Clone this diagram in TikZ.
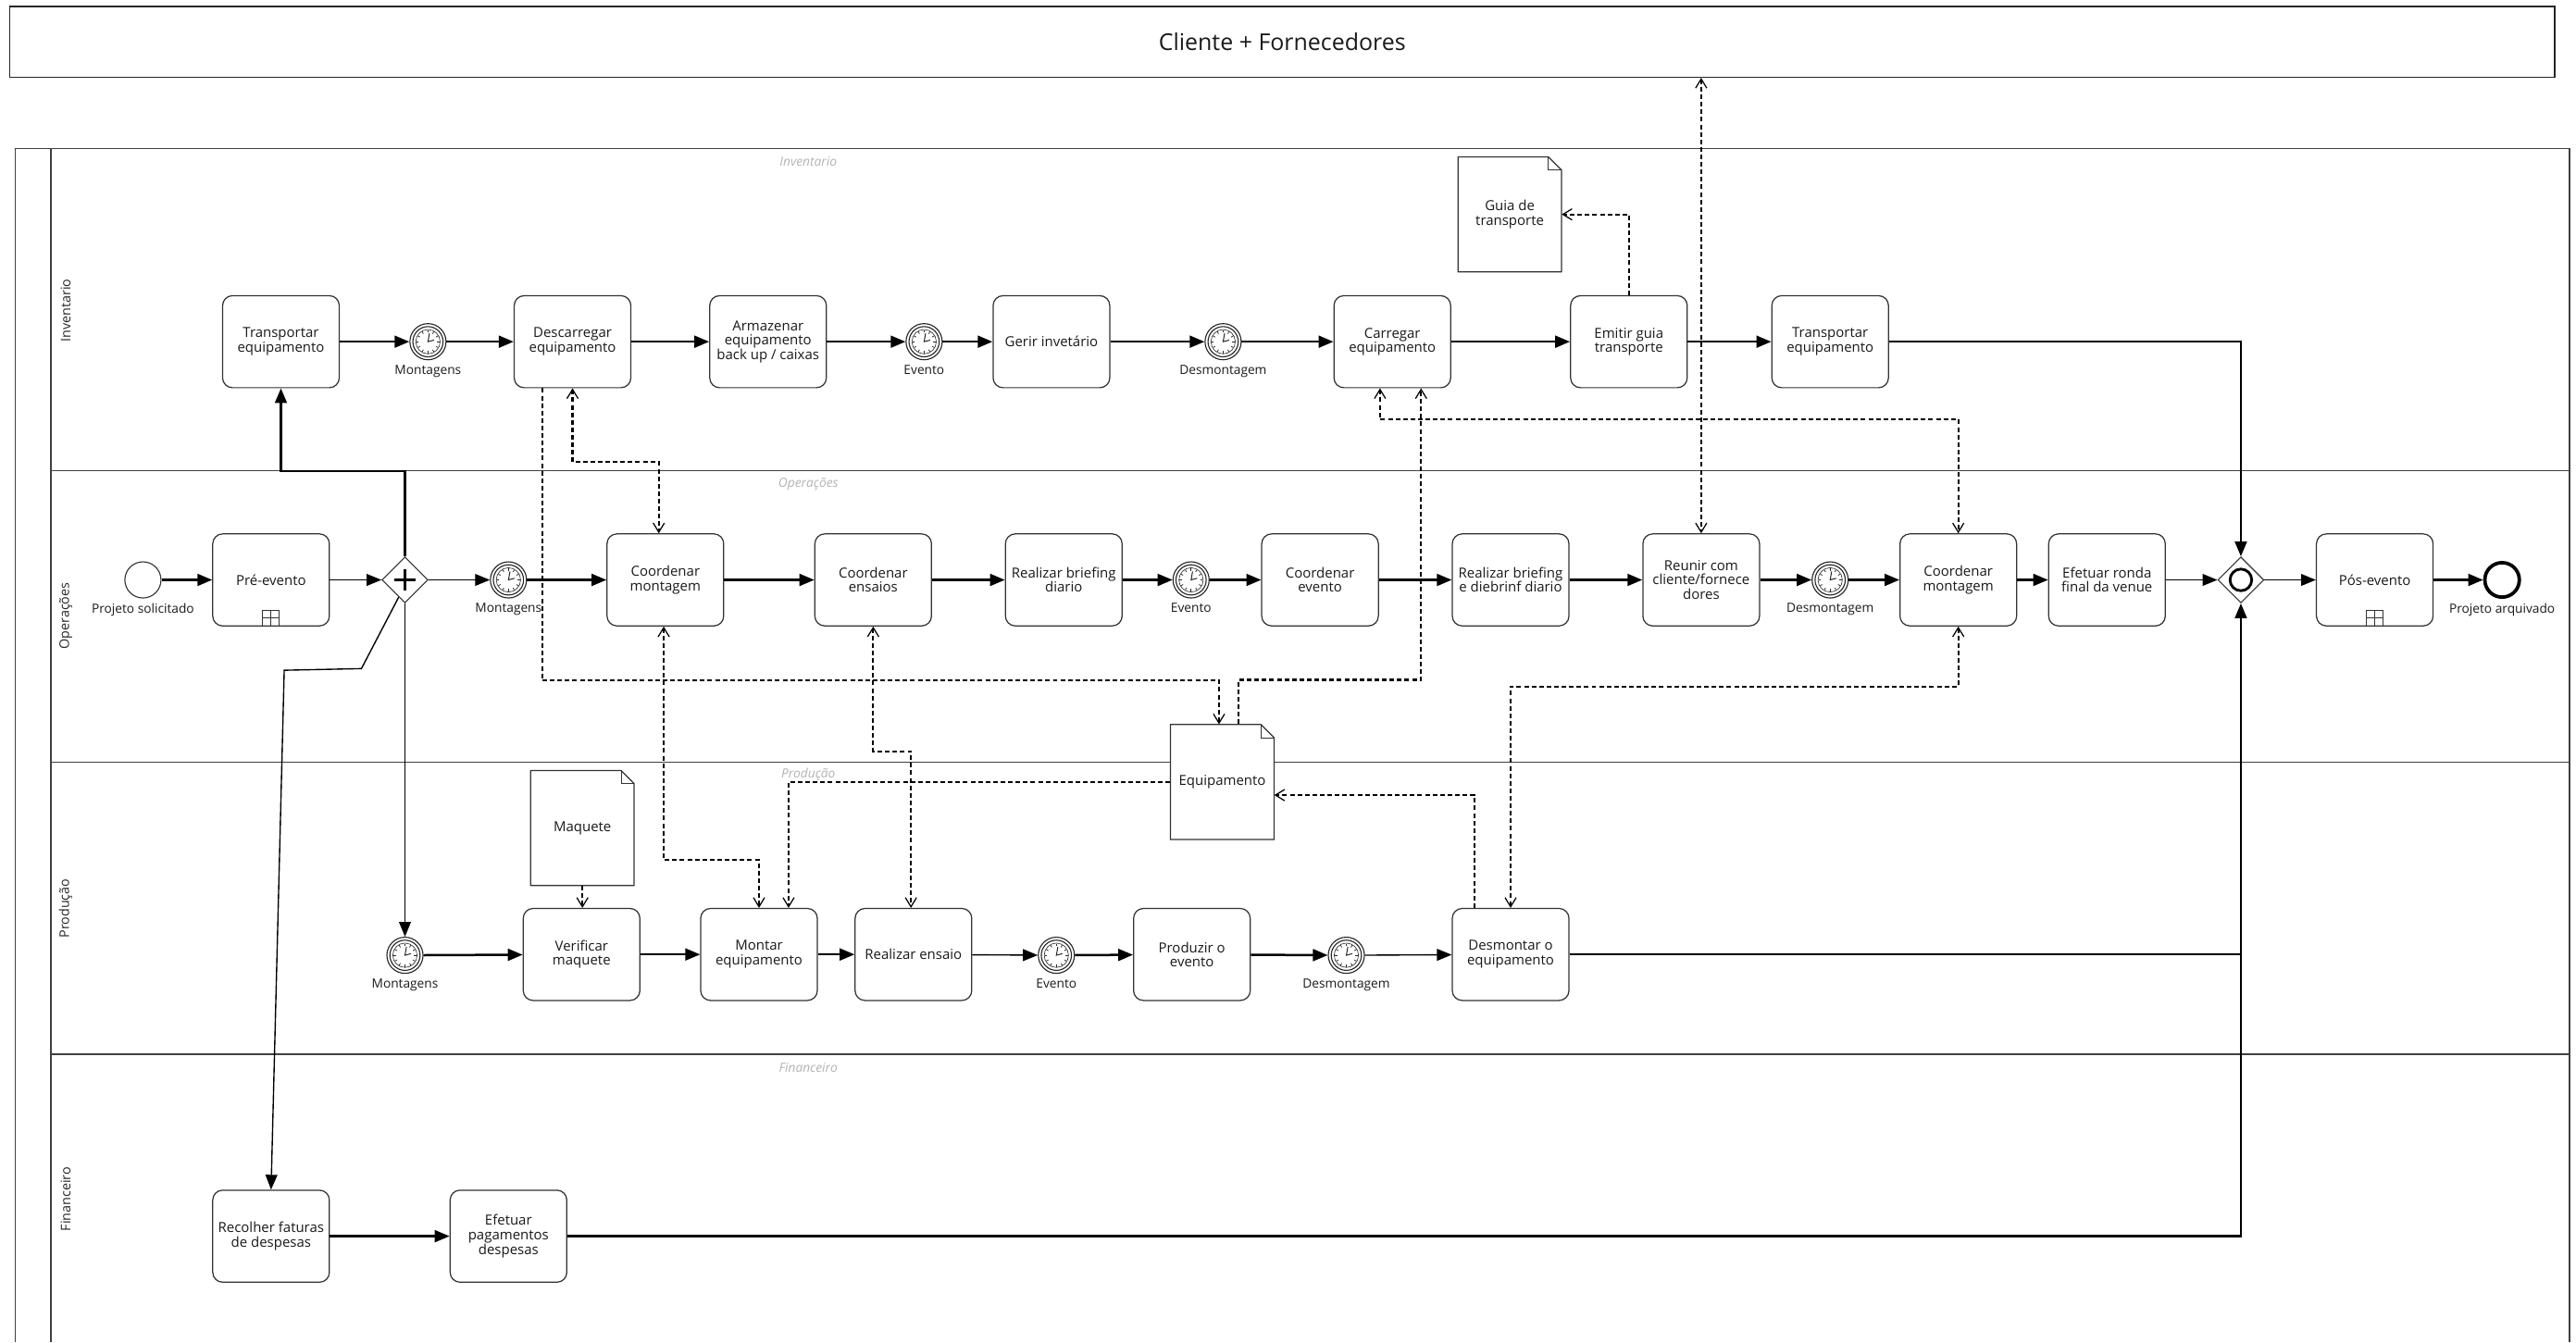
\documentclass[tikz,border=0pt]{standalone}
\usepackage{fontspec}
\setmainfont{Open Sans}
\usetikzlibrary{shapes.geometric,arrows.meta,calc}
\newcommand\docshape[2]{%
  \filldraw[docline] ($(#1,#2)+(-31.5,35)$) -- ($(#1,#2)+(-31.5,-35)$) -- ($(#1,#2)+(23.5,-35)$) -- ($(#1,#2)+(31.5,-27)$) -- ($(#1,#2)+(31.5,35)$) -- cycle;
  \draw[docfold] ($(#1,#2)+(23.5,-35)$) -- ($(#1,#2)+(23.5,-27)$) -- ($(#1,#2)+(31.5,-27)$);}
\newcommand\submarker[1]{%
  \draw[marker] ($(#1.south)+(-5,0)$) rectangle ($(#1.south)+(5,-10)$);
  \draw[marker] ($(#1.south)+(0,0)$) -- ($(#1.south)+(0,-10)$);
  \draw[marker] ($(#1.south)+(-5,-5)$) -- ($(#1.south)+(5,-5)$);}
\tikzset{
  lane/.style={draw=black!75, line width=1pt},
  task/.style={draw=black!80, fill=white, line width=1pt, rounded corners=3mm, minimum width=35.5mm, minimum height=28mm, align=center, inner sep=1pt, text=black!90, font=\fontsize{12}{12.5}\selectfont},
  doc/.style={minimum width=31.5mm, minimum height=35mm, align=center, inner sep=1pt, text=black!90, font=\fontsize{12}{12.5}\selectfont},
  docline/.style={draw=black!80, fill=white, line width=1pt},
  docfold/.style={draw=black!80, line width=0.6pt},
  timer/.style={circle, draw=black!85, fill=white, line width=0.9pt, minimum size=11mm, inner sep=0pt,
    path picture={
      \draw[line width=0.9pt,black!85] (path picture bounding box.center) circle (4.6mm);
      \draw[line width=0.5pt,black!85] (path picture bounding box.center) circle (3.7mm);
      \foreach \a in {0,30,...,330}{\draw[line width=0.6pt,black!85] ($(path picture bounding box.center)+(\a:2.8mm)$) -- ($(path picture bounding box.center)+(\a:3.5mm)$);}
      \draw[line width=0.8pt,black!85] ($(path picture bounding box.center)+(80:2.6mm)$) -- (path picture bounding box.center) -- ($(path picture bounding box.center)+(15:1.9mm)$);
    }},
  startev/.style={circle, draw=black!80, fill=white, line width=0.9pt, minimum size=11mm, inner sep=0pt},
  endev/.style={circle, draw=black, fill=white, line width=3pt, minimum size=10.5mm, inner sep=0pt},
  gateway/.style={diamond, aspect=1, draw=black!80, fill=white, line width=0.9pt, minimum width=14mm, minimum height=14mm, inner sep=0pt},
  pgw/.style={gateway, path picture={\draw[line width=3pt,black] ($(path picture bounding box.center)+(-3.3mm,0)$) -- ($(path picture bounding box.center)+(3.3mm,0)$) ($(path picture bounding box.center)+(0,-3.3mm)$) -- ($(path picture bounding box.center)+(0,3.3mm)$);}},
  igws/.style={gateway, path picture={\draw[line width=2.3pt,black] (path picture bounding box.center) circle (3.3mm);}},
  seq/.style={draw=black, line width=2pt, -{Triangle[length=4.5mm,width=3.6mm]}},
  seqthin/.style={seq, line width=1.1pt},
  seqline/.style={draw=black, line width=2pt},
  assoc/.style={draw=black, line width=1.7pt, dash pattern=on 4pt off 2.5pt, -{Straight Barb[length=2.8mm,width=3.4mm,line width=1pt]}},
  assocboth/.style={assoc, {Straight Barb[length=2.8mm,width=3.4mm,line width=1pt]}-{Straight Barb[length=2.8mm,width=3.4mm,line width=1pt]}},
  marker/.style={draw=black!80, line width=0.8pt},
  lanelabel/.style={rotate=90, font=\fontsize{11.5}{12}\selectfont, text=black!85},
  lanetitle/.style={font=\itshape\fontsize{11}{12}\selectfont, text=black!30},
  every label/.style={font=\fontsize{11}{11.5}\selectfont, text=black!90, inner sep=0.8pt},
  label distance=1.2mm,
}
\begin{document}
\begin{tikzpicture}[x=0.5mm,y=-0.5mm]
\useasboundingbox (0,0) rectangle (1568,817);
% top participant
\node[draw=black!85, line width=1pt, minimum width=774.5mm, minimum height=21.5mm, inner sep=0pt, font=\fontsize{20}{22}\selectfont, text=black!90] (cli) at (780.5,25.5) {Cliente + Fornecedores};
% pool and lanes
\draw[lane] (9.3,817) -- (9.3,90.5) -- (1564,90.5) -- (1564,817);
\draw[lane] (31,90.5) -- (31,817);
\draw[lane] (31,286.5) -- (1564,286.5);
\draw[lane] (31,463.8) -- (1564,463.8);
\draw[lane] (31,641.7) -- (1564,641.7);
\node[lanelabel] (lInv) at (40,189) {Inventario};
\node[lanelabel] (lOps) at (40,375) {Operações};
\node[lanelabel] (lProd) at (40,553) {Produção};
\node[lanelabel] (lFin) at (40,730) {Financeiro};
\node[lanetitle] (tInv) at (492,98.5) {Inventario};
\node[lanetitle] (tOps) at (492,294.5) {Operações};
\node[lanetitle] (tProd) at (492,471.5) {Produção};
\node[lanetitle] (tFin) at (492,650) {Financeiro};
% documents
\docshape{919}{130.5}
\node[doc] (guia) at (919,130.5) {Guia de\\transporte};
\docshape{744}{476}
\node[doc] (equip) at (744,476) {Equipamento};
\docshape{354.5}{504}
\node[doc] (maq) at (354.5,504) {Maquete};
% Inventario
\node[task] (t1) at (171,208) {Transportar\\equipamento};
\node[timer, label={below:Montagens}] (tm1) at (260.5,208) {};
\node[task] (desc) at (348.5,208) {Descarregar\\equipamento};
\node[task] (arm) at (467.5,208) {Armazenar\\equipamento\\back up / caixas};
\node[timer, label={below:Evento}] (tm2) at (562.5,208) {};
\node[task] (gerir) at (640,208) {Gerir invetário};
\node[timer, label={below:Desmontagem}] (tm3) at (744.5,208) {};
\node[task] (carr) at (847.5,208) {Carregar\\equipamento};
\node[task] (emit) at (991.5,208) {Emitir guia\\transporte};
\node[task] (t2) at (1114,208) {Transportar\\equipamento};
% Operacoes
\node[startev, label={below:Projeto solicitado}] (start) at (87,353) {};
\node[task] (pre) at (165,353) {Pré-evento};
\node[pgw] (gw) at (246.5,353) {};
\node[timer, label={below:Montagens}] (tmO) at (309.5,353) {};
\node[task] (coordM) at (405,353) {Coordenar\\montagem};
\node[task] (coordE) at (531.5,353) {Coordenar\\ensaios};
\node[task] (rbd) at (647.5,353) {Realizar briefing\\diario};
\node[timer, label={below:Evento}] (tmE) at (725,353) {};
\node[task] (coordEv) at (803.5,353) {Coordenar\\evento};
\node[task] (rbd2) at (919.5,353) {Realizar briefing\\e diebrinf diario};
\node[task] (reunir) at (1035.5,353) {Reunir com\\cliente/fornece\\dores};
\node[timer, label={below:Desmontagem}] (tmD) at (1114,353) {};
\node[task] (coordM2) at (1192,353) {Coordenar\\montagem};
\node[task] (ronda) at (1282.5,353) {Efetuar ronda\\final da venue};
\node[igws] (igw) at (1364,353) {};
\node[task] (pos) at (1445.5,353) {Pós-evento};
\node[endev, label={below:Projeto arquivado}] (endev) at (1523,353) {};
\submarker{pre}
\submarker{pos}
% Producao
\node[timer, label={below:Montagens}] (tmP) at (246.5,581.5) {};
\node[task] (verif) at (354,581) {Verificar\\maquete};
\node[task] (montar) at (462,581) {Montar\\equipamento};
\node[task] (rens) at (556,581) {Realizar ensaio};
\node[timer, label={below:Evento}] (tmE2) at (643,581.5) {};
\node[task] (prod) at (725.5,581) {Produzir o\\evento};
\node[timer, label={below:Desmontagem}] (tmD2) at (819.5,581.5) {};
\node[task] (desmo) at (919.5,581) {Desmontar o\\equipamento};
% Financeiro
\node[task] (rec) at (165,752.5) {Recolher faturas\\de despesas};
\node[task] (pag) at (309.5,752.5) {Efetuar\\pagamentos\\despesas};
% sequence flows - Inventario
\draw[seq] (t1) -- (tm1);
\draw[seq] (tm1) -- (desc);
\draw[seq] (desc) -- (arm);
\draw[seq] (arm) -- (tm2);
\draw[seq] (tm2) -- (gerir);
\draw[seq] (gerir) -- (tm3);
\draw[seq] (tm3) -- (carr);
\draw[seq] (carr) -- (emit);
\draw[seq] (emit) -- (t2);
\draw[seq] (t2.east) -| (igw.north);
% Operacoes
\draw[seq] (start) -- (pre);
\draw[seqthin] (pre) -- (gw);
\draw[seqthin] (gw) -- (tmO);
\draw[seq] (tmO) -- (coordM);
\draw[seq] (coordM) -- (coordE);
\draw[seq] (coordE) -- (rbd);
\draw[seq] (rbd) -- (tmE);
\draw[seq] (tmE) -- (coordEv);
\draw[seq] (coordEv) -- (rbd2);
\draw[seq] (rbd2) -- (reunir);
\draw[seq] (reunir) -- (tmD);
\draw[seq] (tmD) -- (coordM2);
\draw[seq] (coordM2) -- (ronda);
\draw[seqthin] (ronda) -- (igw);
\draw[seqthin] (igw) -- (pos);
\draw[seq] (pos) -- (endev);
\draw[seq] (gw.north) -- ++(0,-52) -| (t1.south);
\draw[seqthin] (gw.south) -- (tmP.north);
\draw[seqthin] (gw.-110) -- (220,407) -- (173,408) -- (rec.north);
% Producao
\draw[seq] (tmP) -- (verif);
\draw[seq] (verif) -- (montar);
\draw[seq] (montar) -- (rens);
\draw[seqthin] (rens) -- (tmE2);
\draw[seq] (tmE2) -- (prod);
\draw[seq] (prod) -- (tmD2);
\draw[seqthin] (tmD2) -- (desmo);
\draw[seqline] (desmo.east) -- (desmo.east -| igw.south);
% Financeiro
\draw[seq] (rec) -- (pag);
\draw[seq] (pag.east) -| (igw.south);
% associations
\draw[assocboth] (desc.south) -- ++(0,45) -| ($(coordM.north)+(-4,0)$);
\draw[assoc] ($(desc.south)+(-18.5,0)$) -- ++(0,178) -| ($(equip.north)+(-2,0)$);
\draw[assoc] ($(equip.north)+(10,0)$) -- ++(0,-27) -| ($(carr.south)+(17.5,0)$);
\draw[assocboth] ($(carr.south)+(-7.5,0)$) -- ++(0,19) -| (coordM2.north);
\draw[assoc] (emit.north) |- (guia.east);
\draw[assocboth] (cli.south -| reunir.north) -- (reunir.north);
\draw[assocboth] ($(coordM.south)+(-1,0)$) -- ++(0,142) -| (montar.north);
\draw[assoc] (equip.west) -| ($(montar.north)+(18,0)$);
\draw[assocboth] (coordE.south) -- ++(0,76) -| ($(rens.north)+(-1.5,0)$);
\draw[assoc] ($(desmo.north)+(-22,0)$) |- ($(equip.east)+(0,8)$);
\draw[assocboth] (coordM2.south) -- ++(0,36.5) -| (desmo.north);
\draw[assoc] (maq.south) -- (maq.south |- verif.north);
\end{tikzpicture}
\end{document}
